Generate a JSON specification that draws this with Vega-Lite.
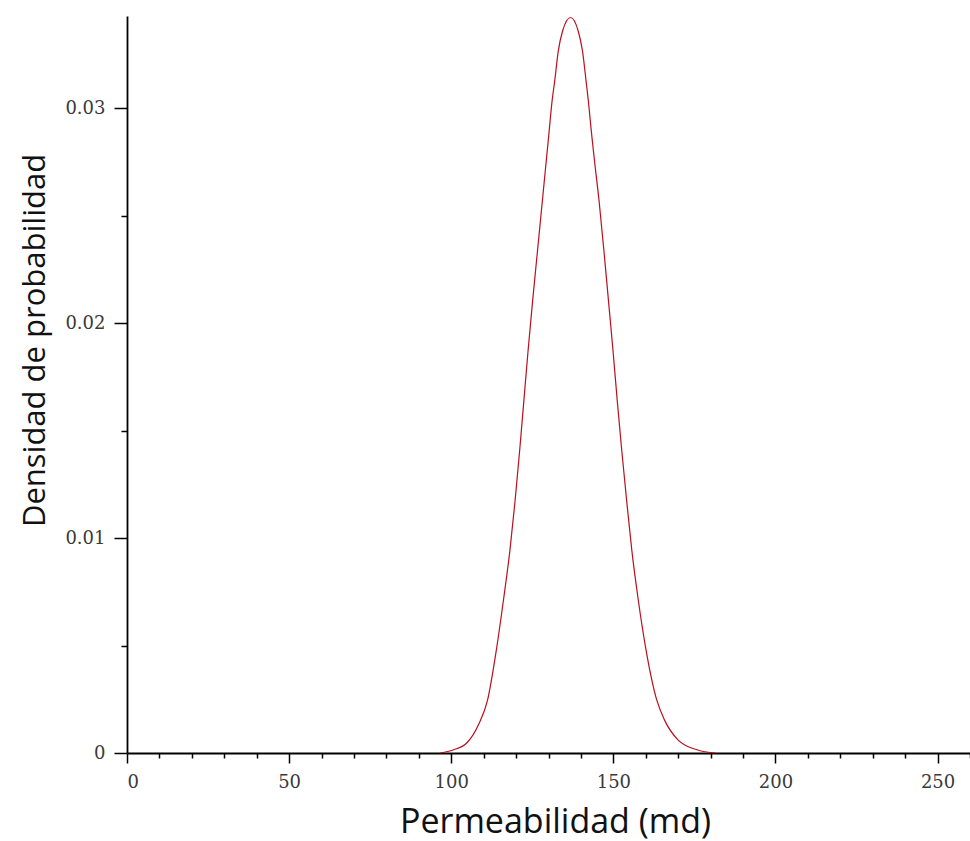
{
  "$schema": "https://vega.github.io/schema/vega-lite/v6.json",
  "width": 843,
  "height": 737,
  "autosize": "none",
  "padding": {"left": 127, "top": 16, "right": 0, "bottom": 88},
  "background": "white",
  "config": {"view": {"stroke": null}},
  "data": {"values": [
    {"k": 96.6, "d": 0},
    {"k": 100.6, "d": 0.00014},
    {"k": 105.0, "d": 0.0005},
    {"k": 108.5, "d": 0.00135},
    {"k": 111.2, "d": 0.00246},
    {"k": 113.9, "d": 0.00478},
    {"k": 116.1, "d": 0.00711},
    {"k": 118.1, "d": 0.00943},
    {"k": 119.7, "d": 0.01175},
    {"k": 121.1, "d": 0.01407},
    {"k": 122.4, "d": 0.0164},
    {"k": 123.7, "d": 0.01872},
    {"k": 125.1, "d": 0.02104},
    {"k": 126.6, "d": 0.02336},
    {"k": 128.1, "d": 0.02569},
    {"k": 129.3, "d": 0.02754},
    {"k": 130.2, "d": 0.02894},
    {"k": 131.1, "d": 0.03034},
    {"k": 131.9, "d": 0.03126},
    {"k": 133.0, "d": 0.03265},
    {"k": 134.3, "d": 0.03358},
    {"k": 136.8, "d": 0.03423},
    {"k": 139.2, "d": 0.03358},
    {"k": 140.5, "d": 0.03265},
    {"k": 141.6, "d": 0.03126},
    {"k": 142.3, "d": 0.03034},
    {"k": 143.2, "d": 0.02894},
    {"k": 144.2, "d": 0.02754},
    {"k": 145.6, "d": 0.02569},
    {"k": 147.1, "d": 0.02336},
    {"k": 148.5, "d": 0.02104},
    {"k": 149.9, "d": 0.01872},
    {"k": 151.2, "d": 0.0164},
    {"k": 152.6, "d": 0.01407},
    {"k": 154.1, "d": 0.01175},
    {"k": 155.7, "d": 0.00943},
    {"k": 157.7, "d": 0.00711},
    {"k": 160.1, "d": 0.00478},
    {"k": 163.4, "d": 0.00246},
    {"k": 165.8, "d": 0.00153},
    {"k": 170.0, "d": 0.0006},
    {"k": 176.0, "d": 0.00014},
    {"k": 181.5, "d": 0}
  ]},
  "resolve": {"axis": {"x": "independent", "y": "independent"}},
  "layer": [
    {
      "mark": {"type": "line", "strokeOpacity": 0},
      "encoding": {
        "x": {"field": "k", "type": "quantitative", "scale": {"domain": [0, 260], "nice": false},
          "axis": {"orient": "bottom", "values": [10,20,30,40,60,70,80,90,110,120,130,140,160,170,180,190,210,220,230,240,260], "labels": false, "domain": false, "grid": false, "tickSize": 5, "tickColor": "#000", "tickWidth": 1.5, "title": null}},
        "y": {"field": "d", "type": "quantitative", "scale": {"domain": [0, 0.0343], "nice": false},
          "axis": {"orient": "left", "values": [0.005, 0.015, 0.025], "labels": false, "domain": false, "grid": false, "tickSize": 6, "tickColor": "#000", "tickWidth": 1.5, "title": null}}
      }
    },
    {
      "mark": {"type": "line", "color": "#b8101e", "strokeWidth": 1.2, "interpolate": "monotone"},
      "encoding": {
        "x": {"field": "k", "type": "quantitative", "scale": {"domain": [0, 260], "nice": false},
          "axis": {"orient": "bottom", "values": [0, 50, 100, 150, 200, 250], "grid": false,
            "domainColor": "#000", "domainWidth": 1.8, "tickColor": "#000", "tickWidth": 1.5, "tickSize": 10,
            "labelFont": "DejaVu Serif", "labelFontSize": 18, "labelColor": "#3a3a3a", "labelPadding": 10,
            "title": "Permeabilidad (md)", "titleFont": "Open Sans", "titleFontSize": 34, "titleFontWeight": "normal", "titleColor": "#111",
            "titleX": 428, "titleY": 69, "titleBaseline": "middle", "titleAnchor": null, "titleAlign": "center"}},
        "y": {"field": "d", "type": "quantitative", "scale": {"domain": [0, 0.0343], "nice": false},
          "axis": {"orient": "left", "values": [0, 0.01, 0.02, 0.03], "format": "~g", "grid": false,
            "domainColor": "#000", "domainWidth": 1.8, "tickColor": "#000", "tickWidth": 1.5, "tickSize": 13,
            "labelFont": "DejaVu Serif", "labelFontSize": 18, "labelColor": "#3a3a3a", "labelPadding": 9,
            "title": "Densidad de probabilidad", "titleFont": "Open Sans", "titleFontSize": 31, "titleFontWeight": "normal", "titleColor": "#111",
            "titleX": -92, "titleY": 324, "titleAngle": 270, "titleBaseline": "middle", "titleAlign": "center"}}
      }
    }
  ]
}
